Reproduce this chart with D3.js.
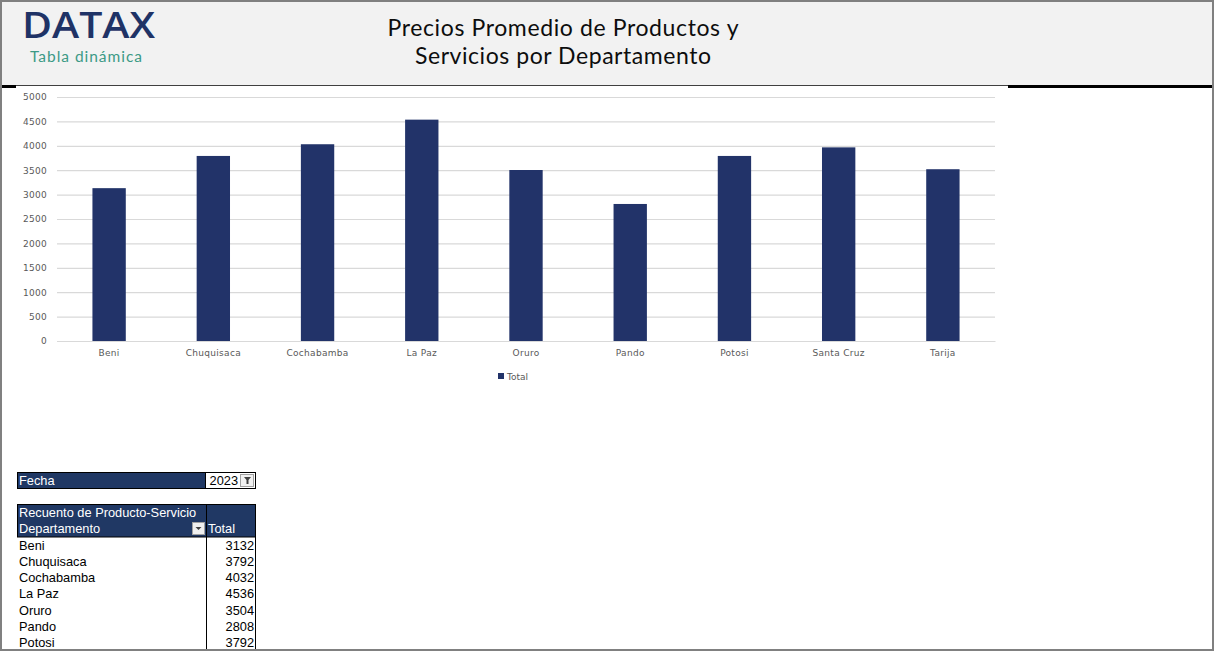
<!DOCTYPE html>
<html><head><meta charset="utf-8">
<script src="https://cdn.jsdelivr.net/npm/d3@7/dist/d3.min.js"></script>
<style>
html,body{margin:0;padding:0;background:#fff;}
svg{display:block;}
</style></head>
<body>
<svg id="c" width="1214" height="651"></svg>
<script>
const categories = ["Beni","Chuquisaca","Cochabamba","La Paz","Oruro","Pando","Potosi","Santa Cruz","Tarija"];
const totals = [3132,3792,4032,4536,3504,2808,3792,3968,3520];
const yTicks = [0,500,1000,1500,2000,2500,3000,3500,4000,4500,5000];
const tableRows = ["Beni","Chuquisaca","Cochabamba","La Paz","Oruro","Pando","Potosi"];
const tableVals = [3132,3792,4032,4536,3504,2808,3792];
const titleLines = ["Precios Promedio de Productos y","Servicios por Departamento"];
const filterYear = "2023";

const svg = d3.select("#c");
const W = 1214, H = 651;
const navy = "#203864";

svg.append("rect").attr("x",0).attr("y",0).attr("width",W).attr("height",H).attr("fill","#fff");
svg.append("rect").attr("x",0).attr("y",0).attr("width",W).attr("height",86).attr("fill","#f2f2f2");
svg.append("line").attr("x1",0).attr("x2",W).attr("y1",85.5).attr("y2",85.5).attr("stroke","#404040").attr("stroke-width",1);
svg.append("rect").attr("x",0).attr("y",85).attr("width",16).attr("height",3).attr("fill","#000");
svg.append("rect").attr("x",1008).attr("y",85).attr("width",W-1008).attr("height",3).attr("fill","#000");

// logo
svg.append("text").attr("x",22).attr("y",38).text("DATAX")
  .attr("font-family","'Open Sans', Lato, sans-serif").attr("font-weight",600)
  .attr("font-size",36).attr("fill","#1f3366").attr("textLength",133).attr("lengthAdjust","spacingAndGlyphs");
svg.append("text").attr("x",30).attr("y",62).text("Tabla dinámica")
  .attr("font-family","Lato, sans-serif").attr("font-size",15.5).attr("fill","#3c9a86")
  .attr("textLength",112).attr("lengthAdjust","spacing");

// title
const titleLens = [351, 296];
titleLines.forEach((l,i)=> svg.append("text").attr("text-anchor","middle")
  .attr("font-family","Lato, 'Noto Sans', sans-serif").attr("font-size",23).attr("fill","#0d0d0d")
  .attr("x",563).attr("y",36+i*28).attr("textLength",titleLens[i]).attr("lengthAdjust","spacing").text(l));

// chart
const m = {left:57, right:995, top:97, bottom:341};
const x = d3.scaleBand().domain(categories).range([m.left,m.right]).paddingInner(0.68).paddingOuter(0.34);
const y = d3.scaleLinear().domain([0,5000]).range([m.bottom,m.top]);

const yAxis = svg.append("g").attr("transform",`translate(${m.left},0)`)
  .call(d3.axisLeft(y).tickValues(yTicks).tickSize(-(m.right-m.left)).tickPadding(10).tickFormat(d3.format("d")));
yAxis.select(".domain").remove();
yAxis.selectAll(".tick line").attr("stroke","#d9d9d9").attr("stroke-width",1.2);
yAxis.selectAll(".tick text").attr("fill","#595959").attr("font-size",9)
  .attr("font-family","'DejaVu Sans', sans-serif").attr("letter-spacing","0.3");

svg.append("g").selectAll("rect").data(totals).join("rect")
  .attr("x",(d,i)=>x(categories[i])).attr("width",x.bandwidth())
  .attr("y",d=>y(d)).attr("height",d=>y(0)-y(d)).attr("fill","#223369");

const xAxis = svg.append("g").attr("transform",`translate(0,${m.bottom})`)
  .call(d3.axisBottom(x).tickSize(0).tickPadding(9));
xAxis.select(".domain").attr("stroke","#d9d9d9").attr("stroke-width",1.2);
xAxis.selectAll(".tick text").attr("fill","#595959").attr("font-size",9)
  .attr("font-family","'DejaVu Sans', sans-serif").attr("letter-spacing","0.3");

// legend
svg.append("rect").attr("x",498).attr("y",373).attr("width",6).attr("height",6).attr("fill","#223369");
svg.append("text").attr("x",507).attr("y",379.5).text("Total").attr("font-size",9).attr("fill","#595959")
  .attr("font-family","'DejaVu Sans', sans-serif");

// filter row
const tf = "'Liberation Sans', Arial, sans-serif";
const fs = 12.8;
svg.append("rect").attr("x",17.5).attr("y",472.5).attr("width",188).attr("height",16).attr("fill",navy).attr("stroke","#000");
svg.append("rect").attr("x",205.5).attr("y",472.5).attr("width",50).attr("height",16).attr("fill","#fff").attr("stroke","#000");
svg.append("text").attr("x",19).attr("y",485).text("Fecha").attr("fill","#fff").attr("font-size",fs).attr("font-family",tf);
svg.append("text").attr("x",238).attr("y",485).attr("text-anchor","end").text(filterYear).attr("fill","#000").attr("font-size",fs).attr("font-family",tf);
svg.append("rect").attr("x",240.5).attr("y",474.5).attr("width",13).attr("height",12).attr("fill","#f0f0f0").attr("stroke","#a0a0a0");
svg.append("path").attr("d","M244,477 h7 l-2.5,3 v4 h-2 v-4 z").attr("fill","#404040");

// pivot table
svg.append("rect").attr("x",17.5).attr("y",504.5).attr("width",238).attr("height",32.5).attr("fill",navy).attr("stroke","#000");
svg.append("text").attr("x",19).attr("y",517).text("Recuento de Producto-Servicio").attr("fill","#fff").attr("font-size",fs).attr("font-family",tf);
svg.append("text").attr("x",19).attr("y",533).text("Departamento").attr("fill","#fff").attr("font-size",fs).attr("font-family",tf);
svg.append("text").attr("x",208).attr("y",533).text("Total").attr("fill","#fff").attr("font-size",fs).attr("font-family",tf);
svg.append("rect").attr("x",192.5).attr("y",522.5).attr("width",12).attr("height",12).attr("fill","#f0f0f0").attr("stroke","#a0a0a0");
svg.append("path").attr("d","M195.5,527 h6 l-3,3 z").attr("fill","#404040");
svg.append("line").attr("x1",206.5).attr("x2",206.5).attr("y1",504).attr("y2",H).attr("stroke","#000");
svg.append("line").attr("x1",255.5).attr("x2",255.5).attr("y1",504).attr("y2",H).attr("stroke","#000");

const rowY = d3.scaleBand().domain(tableRows).range([537,651]);
svg.append("g").selectAll("text.l").data(tableRows).join("text")
  .attr("x",19).attr("y",d=>rowY(d)+12.5).text(d=>d).attr("font-size",fs).attr("font-family",tf).attr("fill","#000");
svg.append("g").selectAll("text.v").data(tableVals).join("text")
  .attr("x",254).attr("text-anchor","end").attr("y",(d,i)=>rowY(tableRows[i])+12.5).text(d=>d)
  .attr("font-size",fs).attr("font-family",tf).attr("fill","#000");

svg.append("rect").attr("x",1).attr("y",1).attr("width",W-2).attr("height",H-2).attr("fill","none").attr("stroke","#808080").attr("stroke-width",2);
</script>
</body></html>
